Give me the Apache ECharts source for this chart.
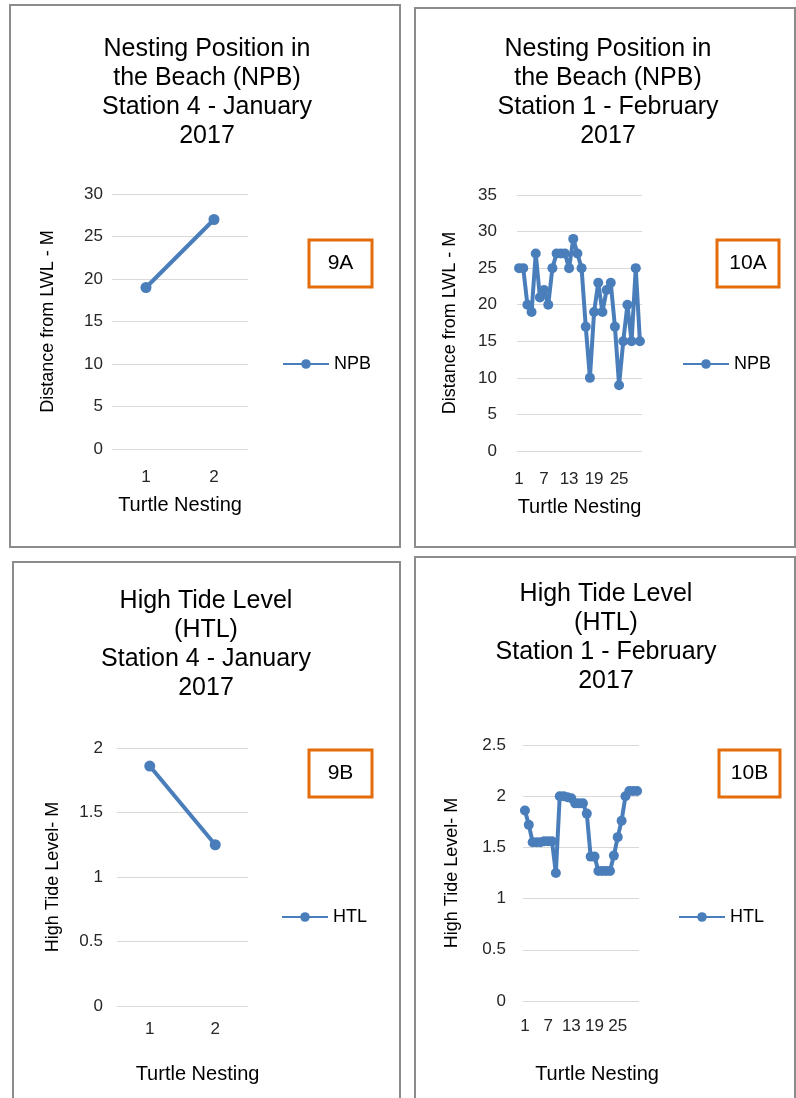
<!DOCTYPE html>
<html>
<head>
<meta charset="utf-8">
<script src="https://cdn.jsdelivr.net/npm/echarts@6/dist/echarts.min.js"></script>
<style>
  html, body { margin: 0; padding: 0; background: #fff; }
  #main { width: 796px; height: 1098px; }
</style>
</head>
<body>
<div id="main"></div>
<script>
// categories
var cats2 = ['1', '2'];
var cats30 = ['1','2','3','4','5','6','7','8','9','10','11','12','13','14','15',
              '16','17','18','19','20','21','22','23','24','25','26','27','28','29','30'];

// 9A - NPB, Station 4 January
var npbJan = [19, 27];
// 10A - NPB, Station 1 February
var npbFeb = [25, 25, 20, 19, 27, 21, 22, 20, 25, 27, 27, 27, 25, 29, 27,
              25, 17, 10, 19, 23, 19, 22, 23, 17, 9, 15, 20, 15, 25, 15];
// 9B - HTL, Station 4 January
var htlJan = [1.86, 1.25];
// 10B - HTL, Station 1 February
var htlFeb = [1.86, 1.72, 1.55, 1.55, 1.55, 1.56, 1.56, 1.56, 1.25, 2.0,
              2.0, 1.99, 1.98, 1.93, 1.93, 1.93, 1.83, 1.41, 1.41, 1.27,
              1.27, 1.27, 1.27, 1.42, 1.60, 1.76, 2.0, 2.05, 2.05, 2.05];

var blue = '#4a7ebb';
var font = 'Liberation Sans, Arial, sans-serif';

var chart = echarts.init(document.getElementById('main'));

function xAx(idx, data, labelMargin, nameGap, interval, namePad) {
    return {
        type: 'category', gridIndex: idx, data: data, boundaryGap: true,
        axisLine: { show: false }, axisTick: { show: false },
        axisLabel: { interval: interval, margin: labelMargin, fontSize: 17, color: '#262626', fontFamily: font },
        name: 'Turtle Nesting', nameLocation: 'middle', nameGap: nameGap,
        nameTextStyle: { fontSize: 20, color: '#000', fontFamily: font, padding: namePad || 0 }
    };
}
function yAx(idx, name, max, interval, labelMargin, nameGap) {
    return {
        type: 'value', gridIndex: idx, min: 0, max: max, interval: interval,
        axisLine: { show: false }, axisTick: { show: false },
        splitLine: { lineStyle: { color: '#d9d9d9', width: 1 } },
        axisLabel: { margin: labelMargin, fontSize: 17, color: '#262626', fontFamily: font },
        name: name, nameLocation: 'middle', nameGap: nameGap, nameRotate: 90,
        nameTextStyle: { fontSize: 18, color: '#000', fontFamily: font }
    };
}
function ser(idx, name, data, sym) {
    return {
        type: 'line', name: name, xAxisIndex: idx, yAxisIndex: idx, data: data,
        symbol: 'circle', symbolSize: sym, showSymbol: true, showAllSymbol: true,
        lineStyle: { color: blue, width: 4 },
        itemStyle: { color: blue }
    };
}
function legend(name, left, top) {
    return {
        data: [name], left: left, top: top, orient: 'vertical',
        itemWidth: 46, itemHeight: 12, itemGap: 4,
        textStyle: { fontSize: 18, color: '#000', fontFamily: font }
    };
}
function panelBorder(x, y, w, h) {
    return { type: 'rect', shape: { x: x, y: y, width: w, height: h }, silent: true,
             style: { fill: 'none', stroke: '#8c8c8c', lineWidth: 2 } };
}
function title(text, cx, top, lh) {
    return { type: 'text', x: cx, y: top, silent: true,
             style: { text: text, fill: '#000', font: '25px ' + font,
                      textAlign: 'center', textVerticalAlign: 'top', lineHeight: lh } };
}
function tag(text, x, y, w, h) {
    return [
        { type: 'rect', shape: { x: x, y: y, width: w, height: h }, silent: true,
          style: { fill: '#fff', stroke: '#e46c0a', lineWidth: 3 } },
        { type: 'text', x: x + w / 2, y: y + h / 2, silent: true,
          style: { text: text, fill: '#000', font: '21px ' + font,
                   textAlign: 'center', textVerticalAlign: 'middle' } }
    ];
}

var option = {
    backgroundColor: '#fff',
    animation: false,
    grid: [
        { left: 112, top: 194, width: 136, height: 255 },
        { left: 517, top: 195, width: 125, height: 256 },
        { left: 117, top: 748, width: 131, height: 258 },
        { left: 523, top: 745, width: 116, height: 256 }
    ],
    xAxis: [
        xAx(0, cats2, 20, 46, 0),
        xAx(1, cats30, 20, 46, 5),
        xAx(2, cats2, 15, 58, 0, [0, 0, 0, 30]),
        xAx(3, cats30, 17, 63, 5, [0, 0, 0, 32])
    ],
    yAxis: [
        yAx(0, 'Distance from LWL - M', 30, 5, 9, 55),
        yAx(1, 'Distance from LWL - M', 35, 5, 20, 58),
        yAx(2, 'High Tide Level- M', 2, 0.5, 14, 55),
        yAx(3, 'High Tide Level- M', 2.5, 0.5, 17, 62)
    ],
    legend: [
        legend('NPB', 277, 350),
        legend('NPB', 677, 350),
        legend('HTL', 276, 903),
        legend('HTL', 673, 903)
    ],
    series: [
        ser(0, 'NPB', npbJan, 11),
        ser(1, 'NPB', npbFeb, 10),
        ser(2, 'HTL', htlJan, 11),
        ser(3, 'HTL', htlFeb, 10)
    ],
    graphic: [
        panelBorder(10, 5, 390, 542),
        panelBorder(415, 8, 380, 539),
        panelBorder(13, 562, 387, 545),
        panelBorder(415, 557, 380, 550),
        title('Nesting Position in\nthe Beach (NPB)\nStation 4 - January\n2017', 207, 35, 29),
        title('Nesting Position in\nthe Beach (NPB)\nStation 1 - February\n2017', 608, 35, 29),
        title('High Tide Level\n(HTL)\nStation 4 - January\n2017', 206, 587, 29),
        title('High Tide Level\n(HTL)\nStation 1 - February\n2017', 606, 580, 29)
    ].concat(
        tag('9A', 309, 240, 63, 47),
        tag('10A', 717, 240, 62, 47),
        tag('9B', 309, 750, 63, 47),
        tag('10B', 719, 750, 61, 47)
    )
};

chart.setOption(option);
</script>
</body>
</html>
